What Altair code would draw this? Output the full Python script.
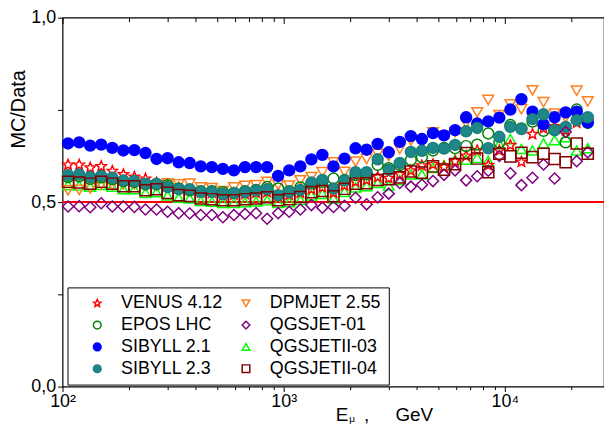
import altair as alt
import pandas as pd

# Muon energy bin centres (GeV)
energy = [105.9, 118.9, 133.4, 149.6, 167.9, 188.4, 211.3, 237.1, 266.1, 298.5,
          335.0, 375.8, 421.7, 473.2, 530.9, 595.7, 668.3, 749.9, 841.4, 944.1,
          1059, 1189, 1334, 1496, 1679, 1884, 2113, 2371, 2661, 2985,
          3350, 3758, 4217, 4732, 5309, 5957, 6683, 7499, 8414, 9441,
          10593, 11885, 13335, 14962, 16788, 18836, 21135, 23714]

venus = [0.601, 0.601, 0.593, 0.597, 0.584, 0.575, 0.568, 0.563, 0.552, 0.545, 0.538, 0.533,
         0.526, 0.525, 0.518, 0.520, 0.522, 0.525, 0.527, 0.515, 0.520, 0.525, 0.535, 0.540,
         0.525, 0.545, 0.555, 0.560, 0.568, 0.565, 0.575, 0.585, 0.599, 0.602, 0.595, 0.610,
         0.625, 0.640, 0.600, 0.640, 0.654, 0.609, 0.684, 0.700, 0.705, 0.694, 0.715, 0.720]
dpmjet = [0.532, 0.533, 0.537, 0.548, 0.546, 0.548, 0.548, 0.545, 0.545, 0.551, 0.548, 0.550,
          0.540, 0.538, 0.530, 0.540, 0.544, 0.546, 0.555, 0.547, 0.545, 0.559, 0.568, 0.581,
          0.608, 0.582, 0.610, 0.617, 0.631, 0.625, 0.644, 0.667, 0.662, 0.689, 0.680, 0.690,
          0.714, 0.743, 0.777, 0.736, 0.765, 0.752, 0.803, 0.771, 0.740, 0.729, 0.802, 0.773]
epos = [0.568, 0.570, 0.563, 0.567, 0.562, 0.556, 0.554, 0.548, 0.548, 0.546, 0.537, 0.532,
        0.530, 0.530, 0.527, 0.525, 0.530, 0.533, 0.541, 0.537, 0.530, 0.540, 0.550, 0.555,
        0.564, 0.560, 0.573, 0.575, 0.601, 0.592, 0.600, 0.614, 0.622, 0.640, 0.647, 0.646,
        0.652, 0.656, 0.686, 0.662, 0.709, 0.700, 0.718, 0.693, 0.695, 0.662, 0.751, 0.715]
qgsjet01 = [0.488, 0.489, 0.486, 0.497, 0.488, 0.488, 0.487, 0.480, 0.480, 0.474, 0.470, 0.469,
            0.465, 0.465, 0.459, 0.465, 0.468, 0.470, 0.455, 0.470, 0.474, 0.480, 0.492, 0.485,
            0.487, 0.490, 0.512, 0.494, 0.513, 0.523, 0.552, 0.542, 0.547, 0.557, 0.574, 0.586,
            0.559, 0.570, 0.585, 0.625, 0.578, 0.546, 0.566, 0.602, 0.564, 0.690, 0.611, 0.635]
sibyll21 = [0.659, 0.662, 0.653, 0.656, 0.647, 0.640, 0.641, 0.633, 0.617, 0.619, 0.608, 0.606,
            0.597, 0.595, 0.590, 0.586, 0.595, 0.595, 0.595, 0.571, 0.586, 0.597, 0.616, 0.628,
            0.597, 0.618, 0.646, 0.642, 0.658, 0.635, 0.663, 0.679, 0.671, 0.687, 0.681, 0.695,
            0.730, 0.713, 0.719, 0.729, 0.751, 0.779, 0.745, 0.711, 0.730, 0.743, 0.745, 0.716]
qgsjet2_03 = [0.547, 0.545, 0.542, 0.547, 0.542, 0.535, 0.535, 0.525, 0.527, 0.518, 0.512, 0.510,
              0.503, 0.501, 0.498, 0.498, 0.500, 0.502, 0.505, 0.498, 0.500, 0.506, 0.518, 0.522,
              0.510, 0.528, 0.540, 0.543, 0.552, 0.545, 0.560, 0.575, 0.575, 0.593, 0.600, 0.615,
              0.615, 0.620, 0.612, 0.657, 0.671, 0.644, 0.640, 0.659, 0.668, 0.676, 0.640, 0.646]
sibyll23 = [0.573, 0.575, 0.568, 0.571, 0.566, 0.559, 0.557, 0.550, 0.550, 0.541, 0.535, 0.535,
            0.528, 0.528, 0.522, 0.525, 0.528, 0.532, 0.535, 0.519, 0.528, 0.533, 0.553, 0.560,
            0.537, 0.559, 0.581, 0.581, 0.616, 0.588, 0.606, 0.636, 0.639, 0.647, 0.645, 0.655,
            0.692, 0.701, 0.646, 0.677, 0.704, 0.698, 0.725, 0.738, 0.695, 0.704, 0.722, 0.730]
qgsjet2_04 = [0.555, 0.553, 0.550, 0.555, 0.550, 0.543, 0.543, 0.532, 0.535, 0.525, 0.519, 0.517,
              0.510, 0.508, 0.505, 0.505, 0.508, 0.510, 0.513, 0.505, 0.508, 0.514, 0.527, 0.530,
              0.516, 0.536, 0.550, 0.551, 0.560, 0.562, 0.567, 0.583, 0.580, 0.597, 0.588, 0.603,
              0.633, 0.618, 0.581, 0.631, 0.624, 0.634, 0.622, 0.631, 0.617, 0.608, 0.659, 0.631]

series_values = {
    "VENUS 4.12": venus, "DPMJET 2.55": dpmjet, "EPOS LHC": epos, "QGSJET-01": qgsjet01,
    "SIBYLL 2.1": sibyll21, "QGSJETII-03": qgsjet2_03, "SIBYLL 2.3": sibyll23,
    "QGSJETII-04": qgsjet2_04,
}
# legend fills column by column
legend_order = ["VENUS 4.12", "EPOS LHC", "SIBYLL 2.1", "SIBYLL 2.3",
                "DPMJET 2.55", "QGSJET-01", "QGSJETII-03", "QGSJETII-04"]
draw_order = ["QGSJETII-03", "DPMJET 2.55", "VENUS 4.12", "EPOS LHC",
              "SIBYLL 2.1", "SIBYLL 2.3", "QGSJET-01", "QGSJETII-04"]

star = ("M0,-1L0.265,-0.364L0.951,-0.309L0.428,0.139L0.588,0.809L0,0.45"
        "L-0.588,0.809L-0.428,0.139L-0.951,-0.309L-0.265,-0.364Z")
stroke_c = {"VENUS 4.12": "#ff0000", "DPMJET 2.55": "#ff7f1e", "EPOS LHC": "#008000",
            "QGSJET-01": "#800080", "SIBYLL 2.1": "#0000ff", "QGSJETII-03": "#00ff00",
            "SIBYLL 2.3": "#1a7f7f", "QGSJETII-04": "#800000"}
fill_c = {"VENUS 4.12": "transparent", "DPMJET 2.55": "transparent", "EPOS LHC": "transparent",
          "QGSJET-01": "transparent", "SIBYLL 2.1": "#0000ff", "QGSJETII-03": "transparent",
          "SIBYLL 2.3": "#1f8787", "QGSJETII-04": "transparent"}
shape_c = {"VENUS 4.12": star, "DPMJET 2.55": "triangle-down", "EPOS LHC": "circle",
           "QGSJET-01": "diamond", "SIBYLL 2.1": "circle", "QGSJETII-03": "triangle-up",
           "SIBYLL 2.3": "circle", "QGSJETII-04": "square"}
size_c = {"VENUS 4.12": 115, "DPMJET 2.55": 125, "EPOS LHC": 90, "QGSJET-01": 130,
          "SIBYLL 2.1": 125, "QGSJETII-03": 115, "SIBYLL 2.3": 105, "QGSJETII-04": 72}

rows = []
for name in draw_order:
    for e, v in zip(energy, series_values[name]):
        rows.append({"E": e, "v": v, "series": name})
df = pd.DataFrame(rows)

FONT = "Liberation Sans"
NB = "\u00a0"
xscale = alt.Scale(type="log", domain=[100, 28080], nice=False)
yscale = alt.Scale(domain=[0, 1], nice=False, zero=False)

minor_vals = [200, 300, 400, 500, 600, 700, 800, 900,
              2000, 3000, 4000, 5000, 6000, 7000, 8000, 9000, 20000]
major_vals = [100, 1000, 10000]

legend = alt.Legend(title=None, orient="none", legendX=5, legendY=272, columns=2,
                    labelFontSize=18, labelFont=FONT, labelColor="black",
                    symbolSize=60, symbolStrokeWidth=1.5, padding=7,
                    symbolOffset=14, labelOffset=15, columnPadding=-16, rowPadding=4,
                    strokeColor="black", fillColor="white")

x_major = alt.Axis(orient="bottom", values=major_vals,
                   labelExpr="datum.value == 100 ? '10\u00b2' : (datum.value == 1000 ? '10\u00b3' : '10\u2074')",
                   tickSize=5, tickColor="black", labelFontSize=18, labelColor="black",
                   labelPadding=1, labelFlush=False, domain=False, grid=False,
                   title="E" + NB * 3 + "," + NB * 5 + "GeV", titleFontSize=19,
                   titleFontWeight="normal",
                   titleColor="black", titleX=275, titleY=34, titleAlign="left",
                   titleBaseline="alphabetic")
x_minor = alt.Axis(orient="bottom", values=minor_vals, tickSize=3, tickColor="black",
                   labels=False, domain=False, grid=False, title=None)
x_top_major = alt.Axis(orient="top", values=major_vals, offset=-6, tickSize=6,
                       tickColor="black", labels=False, domain=False, grid=False, title=None)
x_top_minor = alt.Axis(orient="top", values=minor_vals, offset=-4, tickSize=4,
                       tickColor="black", labels=False, domain=False, grid=False, title=None)

y_axis = alt.Axis(values=[0, 0.25, 0.5, 0.75, 1],
                  labelExpr="(datum.value == 0 || datum.value == 0.5 || datum.value == 1) ? replace(format(datum.value, '.1f'), '.', ',') : ''",
                  tickSize=5, tickColor="black", labelFontSize=18, labelColor="black",
                  labelPadding=2, domain=False, grid=False, title="MC/Data",
                  titleFontSize=20, titleFontWeight="normal", titleColor="black",
                  titleX=-38, titleY=92, titleAngle=270, titleAlign="center",
                  titleBaseline="alphabetic")

base = alt.Chart(df)

rule = base.mark_rule(color="#ff0000", strokeWidth=1).encode(
    y=alt.datum(0.5, scale=yscale, axis=y_axis)
)

points = base.mark_point(filled=False, strokeWidth=1.5, opacity=1).encode(
    x=alt.X("E:Q", scale=xscale, axis=x_major),
    y=alt.Y("v:Q", scale=yscale, axis=y_axis),
    stroke=alt.Stroke("series:N", scale=alt.Scale(domain=legend_order,
                      range=[stroke_c[s] for s in legend_order]), legend=legend),
    fill=alt.Fill("series:N", scale=alt.Scale(domain=legend_order,
                  range=[fill_c[s] for s in legend_order]), legend=legend),
    shape=alt.Shape("series:N", scale=alt.Scale(domain=legend_order,
                    range=[shape_c[s] for s in legend_order]), legend=legend),
    # different domain order, so that this (hidden) legend is not merged with the one above
    size=alt.Size("series:N", scale=alt.Scale(domain=draw_order,
                  range=[size_c[s] for s in draw_order]), legend=None),
)

def tick_layer(axis):
    return base.mark_point(opacity=0).encode(
        x=alt.X("E:Q", scale=xscale, axis=axis),
        y=alt.value(0),
    )

mu = alt.Chart(pd.DataFrame({"t": ["\u03bc"]})).mark_text(
    fontSize=10, font=FONT, align="left", baseline="alphabetic", color="black"
).encode(text="t:N", x=alt.value(289), y=alt.value(408))

chart = alt.layer(
    rule, points, tick_layer(x_minor), tick_layer(x_top_major), tick_layer(x_top_minor), mu
).resolve_axis(x="independent").properties(
    width=546, height=372,
    padding={"left": 55, "top": 8, "right": 0, "bottom": 36},
    autosize=alt.AutoSizeParams(type="none"),
).configure(font=FONT).configure_view(stroke="black", strokeWidth=1.2).configure_legend(
    strokeWidth=1
)

chart.save("out.html", embed_options={"renderer": "svg", "actions": False})
